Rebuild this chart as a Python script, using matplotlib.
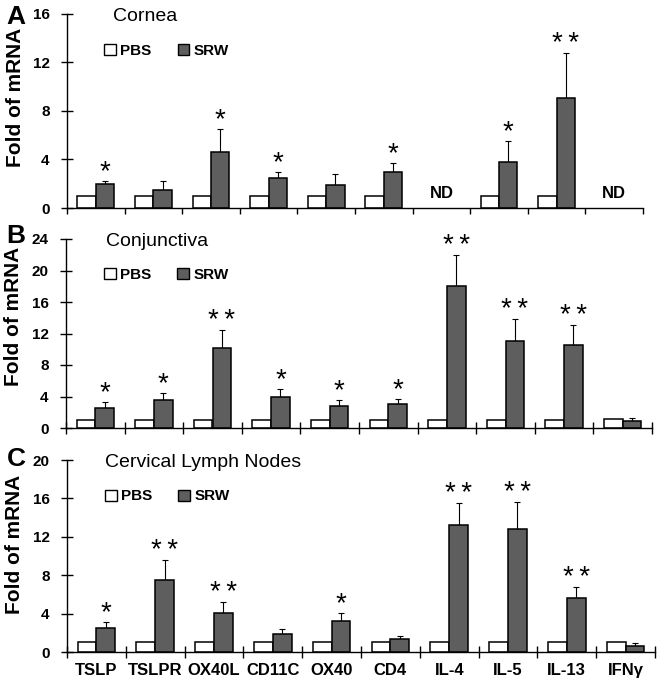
import numpy as np
import matplotlib
matplotlib.use("Agg")
import matplotlib.pyplot as plt
from matplotlib.patches import Patch

plt.rcParams['font.family'] = ['Liberation Sans', 'DejaVu Sans']

# Data
genes = ['TSLP', 'TSLPR', 'OX40L', 'CD11C', 'OX40', 'CD4', 'IL-4', 'IL-5', 'IL-13', 'IFNγ']
nd = np.nan

# A: cornea (IL-4 and IFNγ not detected)
pbs_a = [1, 1, 1, 1, 1, 1, nd, 1, 1, nd]
srw_a = [2.0, 1.5, 4.6, 2.5, 1.9, 3.0, nd, 3.8, 9.1, nd]
err_a = [0.25, 0.7, 1.9, 0.45, 0.9, 0.7, nd, 1.7, 3.7, nd]
sig_a = ['*', '', '*', '*', '', '*', '', '*', '**', '']

# B: conjunctiva
pbs_b = [1, 1, 1, 1, 1, 1, 1, 1, 1, 1.2]
srw_b = [2.5, 3.6, 10.2, 3.9, 2.8, 3.05, 18.0, 11.0, 10.6, 0.9]
err_b = [0.85, 0.8, 2.3, 1.0, 0.7, 0.6, 4.0, 2.9, 2.5, 0.35]
sig_b = ['*', '*', '**', '*', '*', '*', '**', '**', '**', '']

# C: cervical lymph nodes
pbs_c = [1, 1, 1, 1, 1, 1, 1, 1, 1, 1.0]
srw_c = [2.5, 7.5, 4.1, 1.9, 3.2, 1.35, 13.25, 12.8, 5.6, 0.65]
err_c = [0.65, 2.1, 1.1, 0.45, 0.9, 0.3, 2.3, 2.8, 1.15, 0.25]
sig_c = ['*', '**', '**', '', '*', '', '**', '**', '**', '']

W, H = 663, 687
fig = plt.figure(figsize=(W / 100, H / 100), dpi=100)

dark = '#5e5e5e'
bw = 0.32
x = np.arange(len(genes)) + 0.5


def panel(rect, pbs, srw, err, sig, ymax, title, title_x, letter, letter_y,
          label_y, tickdir, show_names=False, nd_list=()):
    ax = fig.add_axes(rect)
    ax.bar(x - bw / 2, pbs, bw, color='white', edgecolor='black', linewidth=1.1, zorder=2)
    ax.bar(x + bw / 2, srw, bw, color=dark, edgecolor='black', linewidth=1.1, zorder=2)
    srw_arr = np.array(srw, dtype=float)
    err_arr = np.array(err, dtype=float)
    ax.errorbar(x + bw / 2, srw_arr, yerr=[np.zeros_like(err_arr), err_arr],
                fmt='none', ecolor='black', elinewidth=0.8, capsize=2.5,
                capthick=0.8, zorder=1)
    for xi, top, s in zip(x, srw_arr + err_arr, sig):
        if s:
            ax.annotate(s.replace('**', '*\u2009*'), (xi + bw / 2, top),
                        xytext=(0, -3), textcoords='offset points',
                        ha='center', va='bottom', fontsize=20)
    for i in nd_list:
        ax.text(x[i], ymax * 0.075, 'ND', ha='center', va='center',
                fontsize=12, fontweight='bold')

    ax.set_xlim(0, len(genes))
    ax.set_ylim(0, ymax)
    ax.set_yticks(np.arange(0, ymax + 1, 4))
    ax.tick_params(axis='y', direction='inout', length=9, width=1.0, pad=8,
                   labelsize=11)
    for t in ax.get_yticklabels():
        t.set_fontweight('bold')

    ax.set_xticks(np.arange(len(genes) + 1), minor=True)
    if tickdir == 'out':
        ax.tick_params(axis='x', which='minor', direction='out', length=4.5, width=1.0)
    else:
        ax.tick_params(axis='x', which='minor', direction='inout', length=9, width=1.0)
    ax.set_xticks(x)
    ax.tick_params(axis='x', which='major', length=0, pad=8, labelsize=12)
    if show_names:
        ax.set_xticklabels(genes, fontweight='bold')
    else:
        ax.set_xticklabels([])

    for s in ['top', 'right']:
        ax.spines[s].set_visible(False)
    for s in ['left', 'bottom']:
        ax.spines[s].set_linewidth(1.0)

    ax.text(title_x, 0.985, title, transform=ax.transAxes, ha='left', va='center',
            fontsize=14)
    ax.legend(handles=[Patch(facecolor='white', edgecolor='black', label='PBS'),
                       Patch(facecolor=dark, edgecolor='black', label='SRW')],
              ncol=2, frameon=False, loc='center left',
              bbox_to_anchor=(0.065, 0.81), borderaxespad=0, borderpad=0,
              handlelength=0.75, handleheight=0.75, handletextpad=0.3,
              columnspacing=1.7, prop={'size': 11, 'weight': 'bold'})
    ax.text(-0.09, label_y, 'Fold of mRNA', transform=ax.transAxes, rotation=90,
            ha='center', va='center', fontsize=15, fontweight='bold')
    fig.text(16 / W, letter_y, letter, ha='center', va='center', fontsize=19,
             fontweight='bold')
    return ax


panel([67 / W, 1 - 208 / H, 576 / W, 194 / H], pbs_a, srw_a, err_a, sig_a, 16,
      'Cornea', 0.08, 'A', 1 - 17 / H, 0.57, 'out', nd_list=(6, 9))
panel([66 / W, 1 - 428 / H, 586 / W, 189 / H], pbs_b, srw_b, err_b, sig_b, 24,
      'Conjunctiva', 0.068, 'B', 1 - 236 / H, 0.59, 'inout')
panel([67 / W, 1 - 652 / H, 588 / W, 192 / H], pbs_c, srw_c, err_c, sig_c, 20,
      'Cervical Lymph Nodes', 0.064, 'C', 1 - 459 / H, 0.56, 'inout',
      show_names=True)

fig.savefig('out.png', dpi=100)
